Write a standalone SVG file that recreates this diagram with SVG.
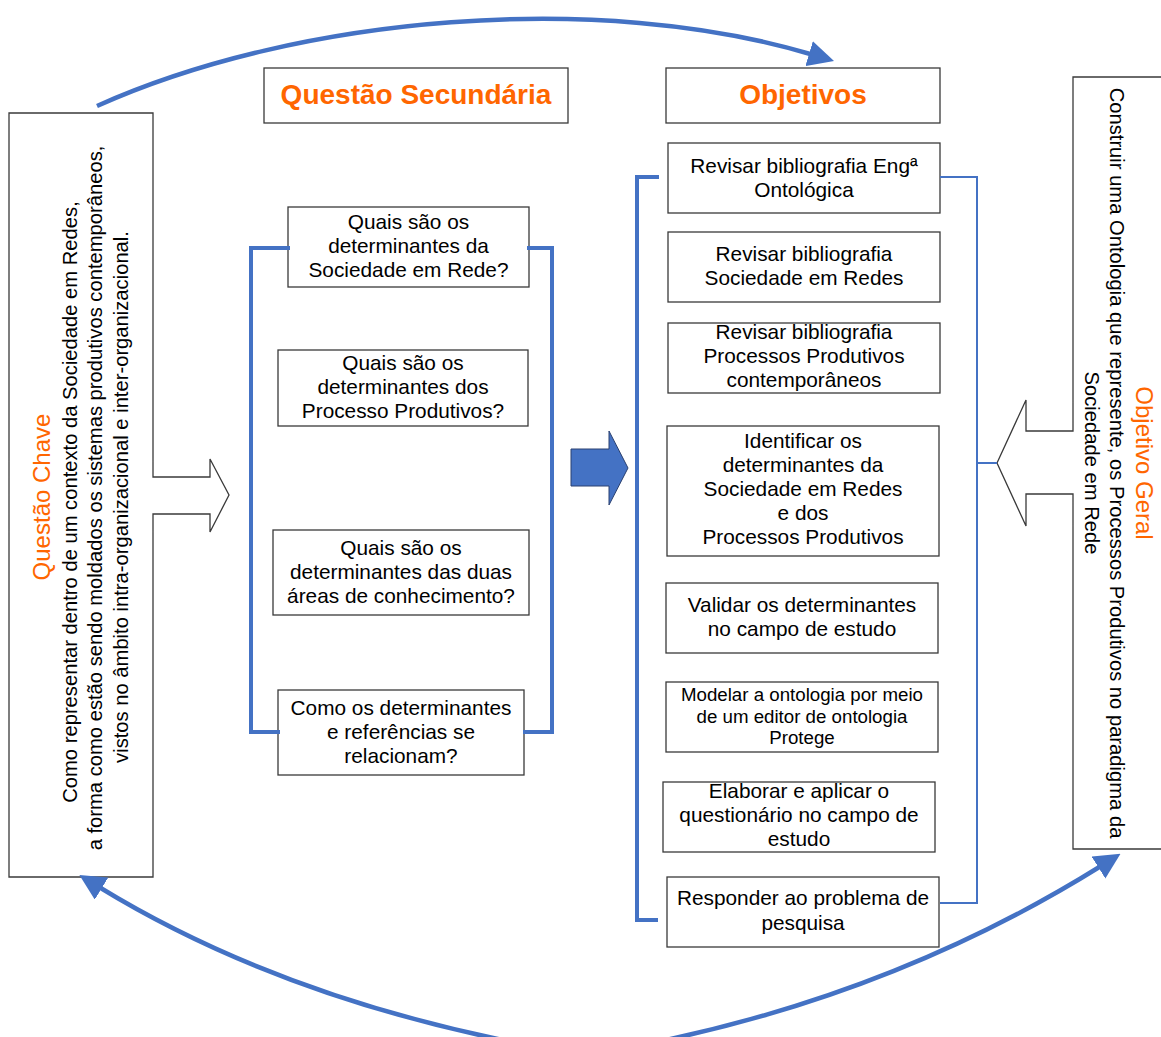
<svg xmlns="http://www.w3.org/2000/svg" width="1161" height="1037" viewBox="0 0 1161 1037">
  <defs>
    <style>
      .box { fill: #fff; stroke: #3a3a3a; stroke-width: 1.3; }
      .t { font-family: "Liberation Sans", Arial, sans-serif; font-size: 20.8px; fill: #000; text-anchor: middle; }
      .ts { font-size: 18.7px; }
      .hd { font-family: "Liberation Sans", Arial, sans-serif; font-size: 28px; font-weight: bold; fill: #FF6600; text-anchor: middle; }
      .or { font-family: "Liberation Sans", Arial, sans-serif; font-size: 24px; fill: #FF6600; text-anchor: middle; }
      .rt { font-family: "Liberation Sans", Arial, sans-serif; font-size: 20.2px; fill: #000; text-anchor: middle; }
      .arc { fill: none; stroke: #4472C4; stroke-width: 4.5; }
      .brk { fill: none; stroke: #4472C4; stroke-width: 4; }
      .brk-thin { fill: none; stroke: #4472C4; stroke-width: 2; }
    </style>
    <marker id="head" markerUnits="userSpaceOnUse" markerWidth="26" markerHeight="26" viewBox="0 0 26 26" refX="3" refY="13" orient="auto">
      <path d="M0,0 L26,13 L0,26 Z" fill="#4472C4"/>
    </marker>
  </defs>

  <!-- Questão Chave (left callout pointing right) -->
  <g id="questao-chave">
    <path class="box" d="M9,113 H153 V477 H210 V459 L229,495 L210,532 V514 H153 V877 H9 Z"/>
    <text class="or" transform="translate(50,497) rotate(-90)">Questão Chave</text>
    <text class="rt" transform="translate(77,502) rotate(-90)">Como representar dentro de um contexto da Sociedade em Redes,</text>
    <text class="rt" transform="translate(102,498) rotate(-90)">a forma como estão sendo moldados os sistemas produtivos contemporâneos,</text>
    <text class="rt" transform="translate(128,497) rotate(-90)">vistos no âmbito intra-organizacional e inter-organizacional.</text>
  </g>

  <!-- Objetivo Geral (right callout pointing left) -->
  <g id="objetivo-geral">
    <path class="box" d="M1166,77 H1073 V431 H1026 V400 L997,463 L1026,526 V494 H1073 V849 H1166"/>
    <text class="or" transform="translate(1136,463) rotate(90)">Objetivo Geral</text>
    <text class="rt" transform="translate(1110,463) rotate(90)">Construir uma Ontologia que represente, os Processos Produtivos no paradigma da</text>
    <text class="rt" transform="translate(1085,463) rotate(90)">Sociedade em Rede</text>
  </g>

  <!-- Column headers -->
  <g id="hdr-secundaria">
    <rect class="box" x="264" y="68" width="304" height="55"/>
    <text class="hd" x="416" y="104">Questão Secundária</text>
  </g>
  <g id="hdr-objetivos">
    <rect class="box" x="666" y="68" width="274" height="55"/>
    <text class="hd" x="803" y="104">Objetivos</text>
  </g>

  <!-- Secondary questions -->
  <g id="sec-1">
    <rect class="box" x="288" y="207" width="241" height="80"/>
    <text class="t" x="408.5" y="229">Quais são os</text>
    <text class="t" x="408.5" y="253">determinantes da</text>
    <text class="t" x="408.5" y="277">Sociedade em Rede?</text>
  </g>
  <g id="sec-2">
    <rect class="box" x="278" y="350" width="250" height="76"/>
    <text class="t" x="403" y="370">Quais são os</text>
    <text class="t" x="403" y="394">determinantes dos</text>
    <text class="t" x="403" y="418">Processo Produtivos?</text>
  </g>
  <g id="sec-3">
    <rect class="box" x="273" y="530" width="256" height="85"/>
    <text class="t" x="401" y="555">Quais são os</text>
    <text class="t" x="401" y="579">determinantes das duas</text>
    <text class="t" x="401" y="603">áreas de conhecimento?</text>
  </g>
  <g id="sec-4">
    <rect class="box" x="278" y="690" width="246" height="85"/>
    <text class="t" x="401" y="715">Como os determinantes</text>
    <text class="t" x="401" y="739">e referências se</text>
    <text class="t" x="401" y="763">relacionam?</text>
  </g>

  <!-- Objectives -->
  <g id="obj-1">
    <rect class="box" x="668" y="143" width="272" height="70"/>
    <text class="t" x="804" y="173">Revisar bibliografia Engª</text>
    <text class="t" x="804" y="197">Ontológica</text>
  </g>
  <g id="obj-2">
    <rect class="box" x="668" y="232" width="272" height="70"/>
    <text class="t" x="804" y="261">Revisar bibliografia</text>
    <text class="t" x="804" y="285">Sociedade em Redes</text>
  </g>
  <g id="obj-3">
    <rect class="box" x="668" y="323" width="272" height="70"/>
    <text class="t" x="804" y="339">Revisar bibliografia</text>
    <text class="t" x="804" y="363">Processos Produtivos</text>
    <text class="t" x="804" y="387">contemporâneos</text>
  </g>
  <g id="obj-4">
    <rect class="box" x="667" y="426" width="272" height="130"/>
    <text class="t" x="803" y="448">Identificar os</text>
    <text class="t" x="803" y="472">determinantes da</text>
    <text class="t" x="803" y="496">Sociedade em Redes</text>
    <text class="t" x="803" y="520">e dos</text>
    <text class="t" x="803" y="544">Processos Produtivos</text>
  </g>
  <g id="obj-5">
    <rect class="box" x="666" y="583" width="272" height="70"/>
    <text class="t" x="802" y="612">Validar os determinantes</text>
    <text class="t" x="802" y="636">no campo de estudo</text>
  </g>
  <g id="obj-6">
    <rect class="box" x="666" y="682" width="272" height="70"/>
    <text class="t ts" x="802" y="701">Modelar a ontologia por meio</text>
    <text class="t ts" x="802" y="723">de um editor de ontologia</text>
    <text class="t ts" x="802" y="744">Protege</text>
  </g>
  <g id="obj-7">
    <rect class="box" x="663" y="782" width="272" height="70"/>
    <text class="t" x="799" y="798">Elaborar e aplicar o</text>
    <text class="t" x="799" y="822">questionário no campo de</text>
    <text class="t" x="799" y="846">estudo</text>
  </g>
  <g id="obj-8">
    <rect class="box" x="667" y="877" width="272" height="70"/>
    <text class="t" x="803" y="905">Responder ao problema de</text>
    <text class="t" x="803" y="930">pesquisa</text>
  </g>

  <!-- Connectors -->
  <g id="connectors">
    <!-- brackets -->
    <polyline class="brk" points="290,248 251,248 251,732 280,732"/>
    <polyline class="brk" points="527,248 552,248 552,732 523,732"/>
    <polyline class="brk" points="659,177 637,177 637,920 658,920"/>
    <polyline class="brk-thin" points="940,177 977,177 977,903 940,903"/>
    <line class="brk-thin" x1="977" y1="463" x2="997" y2="463"/>
    <!-- block arrow between columns -->
    <polygon points="571,449 609,449 609,431 628,468 609,505 609,486 571,486" fill="#4472C4" stroke="#2B4170" stroke-width="1"/>
    <!-- cycle arcs -->
    <path class="arc" d="M97,106 C300,15 600,-9 812,54.5" marker-end="url(#head)"/>
    <path class="arc" d="M585,1055 Q300,1010 99,887" marker-end="url(#head)"/>
    <path class="arc" d="M585,1055 Q870,1010 1101,866" marker-end="url(#head)"/>
  </g>
</svg>
